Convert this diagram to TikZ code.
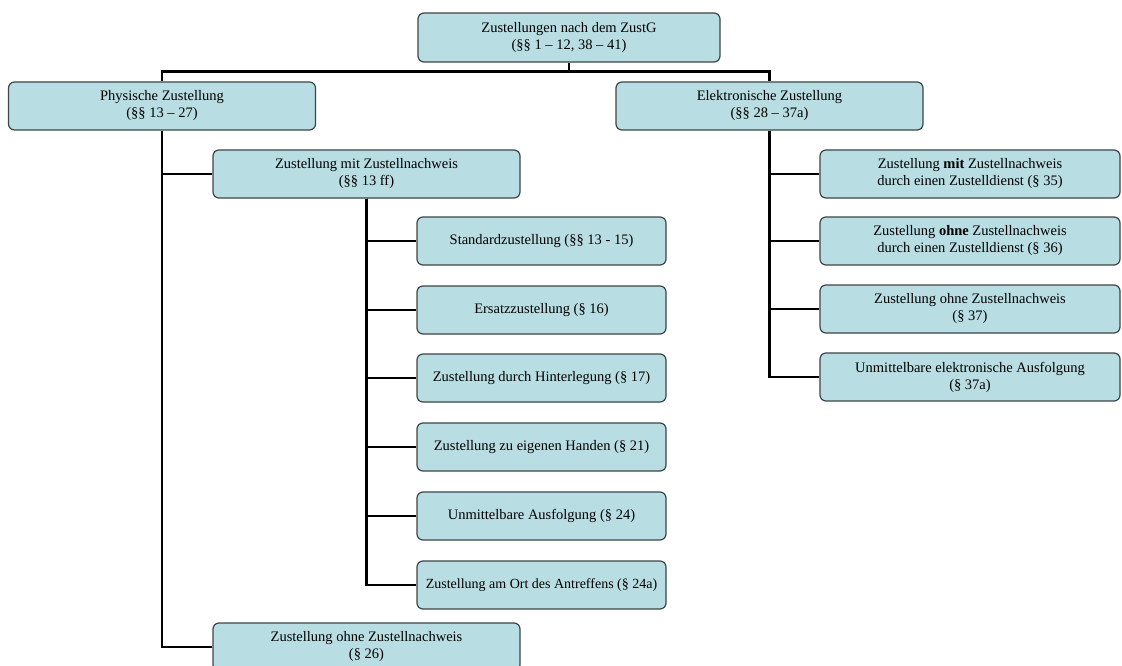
\documentclass[tikz,border=0pt]{standalone}
\usepackage{fontspec}
\setmainfont{Liberation Serif}
\definecolor{boxfill}{RGB}{184,221,226}
\definecolor{boxline}{RGB}{60,70,72}
\begin{document}
\begin{tikzpicture}[x=1pt,y=-1pt,
  box/.style={draw=boxline, line width=1.2pt, fill=boxfill, rounded corners=6pt,
    minimum height=48pt, inner sep=1pt, align=center,
    font=\fontsize{14.5}{17}\selectfont},
  wbig/.style={minimum width=307pt},
  wsmall/.style={minimum width=249pt},
  wright/.style={minimum width=300pt},
  conn/.style={line width=2.8pt, black}]
\useasboundingbox (0,0) rectangle (1122,666);
\fill[white] (0,0) rectangle (1122,666);

\node[box, minimum width=302pt, minimum height=49pt] (top) at (569,37.5) {Zustellungen nach dem ZustG\\(§§ 1 – 12, 38 – 41)};
\node[box, wbig] (phys) at (162,106) {Physische Zustellung\\(§§ 13 – 27)};
\node[box, wbig] (elek) at (769.5,106) {Elektronische Zustellung\\(§§ 28 – 37a)};

\node[box, wbig] (mit) at (366.5,174) {Zustellung mit Zustellnachweis\\(§§ 13 ff)};
\node[box, wbig] (ohne) at (366.5,647) {Zustellung ohne Zustellnachweis\\(§ 26)};

\node[box, wsmall] (s1) at (541.5,241) {Standardzustellung (§§ 13 - 15)};
\node[box, wsmall] (s2) at (541.5,310) {Ersatzzustellung (§ 16)};
\node[box, wsmall] (s3) at (541.5,378) {Zustellung durch Hinterlegung (§ 17)};
\node[box, wsmall] (s4) at (541.5,447) {Zustellung zu eigenen Handen (§ 21)};
\node[box, wsmall] (s5) at (541.5,516) {Unmittelbare Ausfolgung (§ 24)};
\node[box, wsmall, font=\fontsize{14}{17}\selectfont] (s6) at (541.5,585) {Zustellung am Ort des Antreffens (§ 24a)};

\node[box, wright] (e1) at (970,174) {Zustellung \textbf{mit} Zustellnachweis\\durch einen Zustelldienst (§ 35)};
\node[box, wright] (e2) at (970,241) {Zustellung \textbf{ohne} Zustellnachweis\\durch einen Zustelldienst (§ 36)};
\node[box, wright] (e3) at (970,309) {Zustellung ohne Zustellnachweis\\(§ 37)};
\node[box, wright] (e4) at (970,377) {Unmittelbare elektronische Ausfolgung\\(§ 37a)};

\draw[conn] (top.south) -- ++(0,10);
\draw[conn] (phys.north) -- ++(0,-10) -| (elek.north);
\draw[conn] (phys.south) |- (mit.west);
\draw[conn] (phys.south) |- (ohne.west);
\foreach \n in {s1,s2,s3,s4,s5,s6} \draw[conn] (mit.south) |- (\n.west);
\foreach \n in {e1,e2,e3,e4} \draw[conn] (elek.south) |- (\n.west);
\end{tikzpicture}
\end{document}
